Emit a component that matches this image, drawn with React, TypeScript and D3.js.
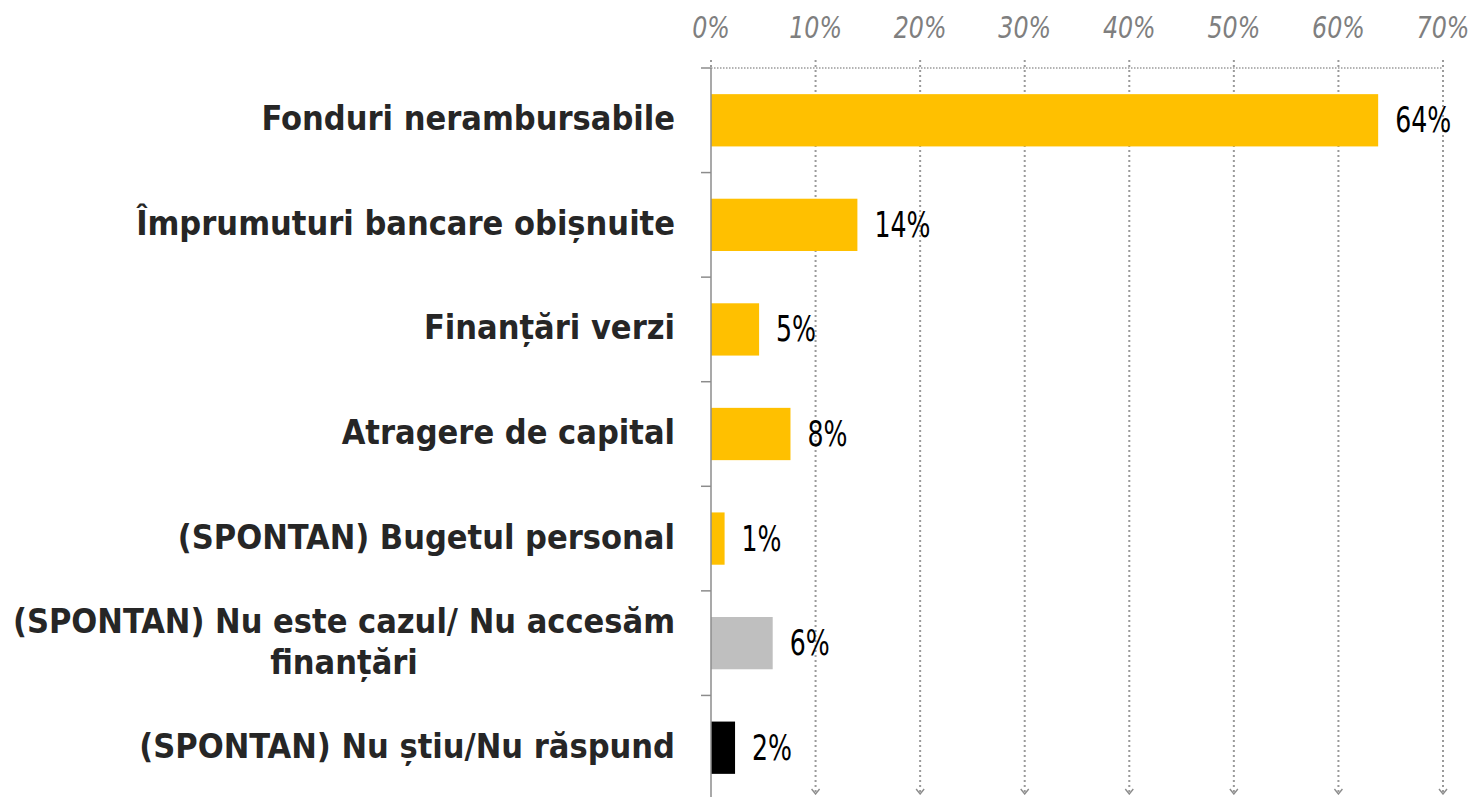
import React from "react";
import * as d3 from "d3";

const categories = [
  "Fonduri nerambursabile",
  "Împrumuturi bancare obișnuite",
  "Finanțări verzi",
  "Atragere de capital",
  "(SPONTAN) Bugetul personal",
  "(SPONTAN) Nu este cazul/ Nu accesăm finanțări",
  "(SPONTAN) Nu știu/Nu răspund",
];
const categoryLines = [
  ["Fonduri nerambursabile"],
  ["Împrumuturi bancare obișnuite"],
  ["Finanțări verzi"],
  ["Atragere de capital"],
  ["(SPONTAN) Bugetul personal"],
  ["(SPONTAN) Nu este cazul/ Nu accesăm", "finanțări"],
  ["(SPONTAN) Nu știu/Nu răspund"],
];
const values = [63.8, 14.0, 4.6, 7.6, 1.3, 5.9, 2.3];
const valueLabels = ["64%", "14%", "5%", "8%", "1%", "6%", "2%"];
const barColors = ["#FFC000", "#FFC000", "#FFC000", "#FFC000", "#FFC000", "#BFBFBF", "#000000"];
const xTicks = [0, 10, 20, 30, 40, 50, 60, 70];

const W = 1473;
const H = 797;
const X0 = 711;
const X1 = 1443;
const Y0 = 68;
const Y1 = 800;

export default function App() {
  const x = d3.scaleLinear().domain([0, 70]).range([X0, X1]);
  const y = d3
    .scaleBand<string>()
    .domain(categories)
    .range([Y0, Y1])
    .paddingInner(0.5)
    .paddingOuter(0.25);
  const step = y.step();
  const labelFont = "'DejaVu Sans Condensed', 'DejaVu Sans', sans-serif";
  const narrow = "'Liberation Sans Narrow', 'DejaVu Sans Condensed', sans-serif";

  return (
    <svg
      width={W}
      height={H}
      style={{ position: "absolute", left: 0, top: 0, background: "#fff" }}
    >
      <defs>
        <marker
          id="arr"
          viewBox="0 0 10 10"
          refX="5"
          refY="9"
          markerWidth="10"
          markerHeight="10"
          markerUnits="userSpaceOnUse"
          orient="0"
        >
          <path d="M1,4 L5,9 L9,4" fill="none" stroke="#8c8c8c" strokeWidth={1.4} />
        </marker>
      </defs>

      {/* top horizontal dotted line */}
      <line
        x1={X0}
        x2={X1}
        y1={Y0}
        y2={Y0}
        stroke="#9a9a9a"
        strokeWidth={1.5}
        strokeDasharray="1.5,1.5"
      />
      {/* vertical gridlines */}
      {xTicks.slice(1).map((t) => (
        <line
          key={"g" + t}
          x1={x(t)}
          x2={x(t)}
          y1={Y0 - 8}
          y2={H - 3}
          stroke="#9a9a9a"
          strokeWidth={2}
          strokeDasharray="2,3"
          markerEnd="url(#arr)"
        />
      ))}
      <line
        x1={X0}
        x2={X0}
        y1={Y0 - 8}
        y2={Y0}
        stroke="#9a9a9a"
        strokeWidth={2}
        strokeDasharray="2,3"
      />
      {/* tick labels */}
      {xTicks.map((t) => (
        <text
          key={"t" + t}
          transform={`translate(${x(t)},38) scale(0.88,1)`}
          textAnchor="middle"
          fontFamily={narrow}
          fontStyle="italic"
          fontSize={30}
          fill="#7f7f7f"
        >
          {t}%
        </text>
      ))}

      {/* bars */}
      {categories.map((c, i) => (
        <rect
          key={"b" + i}
          x={x(0)}
          y={y(c)}
          width={x(values[i]) - x(0)}
          height={y.bandwidth()}
          fill={barColors[i]}
        />
      ))}

      {/* left axis */}
      <line x1={X0} x2={X0} y1={Y0} y2={H} stroke="#8c8c8c" strokeWidth={1.5} />
      {d3.range(categories.length + 1).map((i) => (
        <line
          key={"k" + i}
          x1={X0 - 10}
          x2={X0}
          y1={Y0 + i * step}
          y2={Y0 + i * step}
          stroke="#8c8c8c"
          strokeWidth={1.5}
        />
      ))}

      {/* category labels */}
      {categories.map((c, i) => {
        const lines = categoryLines[i];
        const cy = (y(c) as number) + y.bandwidth() / 2;
        const lh = 41;
        const multi = lines.length > 1;
        return (
          <text
            key={"l" + i}
            x={multi ? 344 : 675}
            textAnchor={multi ? "middle" : "end"}
            fontFamily={labelFont}
            fontStretch="condensed"
            fontWeight="bold"
            fontSize={34}
            fill="#262626"
          >
            {lines.map((ln, j) => (
              <tspan
                key={j}
                x={multi ? 344 : 675}
                y={cy + 10 + (j - (lines.length - 1) / 2) * lh}
              >
                {ln}
              </tspan>
            ))}
          </text>
        );
      })}

      {/* value labels */}
      {categories.map((c, i) => (
        <text
          key={"v" + i}
          transform={`translate(${x(values[i]) + 17},${(y(c) as number) + y.bandwidth() / 2 + 12}) scale(0.8,1)`}
          fontFamily={narrow}
          fontSize={35}
          fill="#000"
        >
          {valueLabels[i]}
        </text>
      ))}
    </svg>
  );
}
